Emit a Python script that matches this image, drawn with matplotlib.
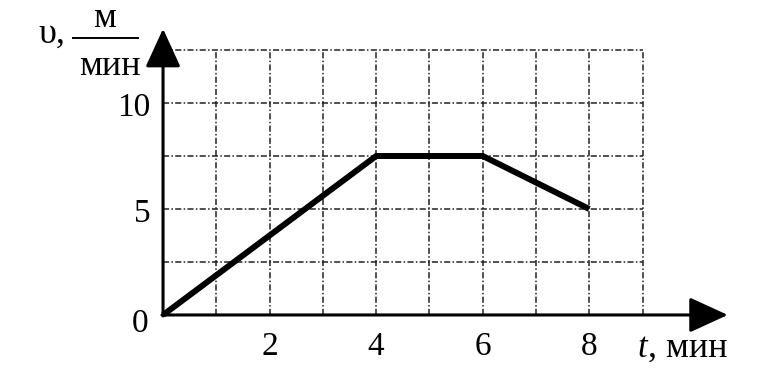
import matplotlib.pyplot as plt
import numpy as np

# data
t_points = [0, 4, 6, 8]
v_points = [0, 7.5, 7.5, 5]
x_ticks = [2, 4, 6, 8]
y_ticks = [5, 10]
grid_x = np.arange(1, 10)
grid_y = np.arange(2.5, 12.6, 2.5)

serif = {'family': 'Liberation Serif'}

fig = plt.figure(figsize=(7.8, 3.9), dpi=100)
ax = fig.add_axes([0, 0, 1, 1])
ax.set_xlim(-3.06, 11.58)
ax.set_ylim(-3.54, 14.86)
ax.axis('off')

# dashed grid
dash = (0, (4, 1.5, 1, 1.5))
ax.vlines(grid_x, 0, grid_y[-1], colors='#222222', linewidth=1.1, linestyles=[dash])
ax.hlines(grid_y, 0, grid_x[-1], colors='#222222', linewidth=1.1, linestyles=[dash])

# axes with arrows
arrow = dict(arrowstyle='-|>,head_length=1.2,head_width=0.55', mutation_scale=20,
             lw=2.2, color='black', shrinkA=0, shrinkB=0)
ax.annotate('', xy=(10.6, 0), xytext=(-0.02, 0), arrowprops=arrow)
ax.annotate('', xy=(0, 13.5), xytext=(0, -0.05), arrowprops=arrow)

# graph
ax.plot(t_points, v_points, color='black', linewidth=4.3, solid_capstyle='butt',
        solid_joinstyle='miter')

# tick labels
for x in x_ticks:
    ax.text(x, -1.89, str(x), ha='center', va='baseline', fontsize=24, **serif)
for y in y_ticks:
    ax.text(-0.24, y - 0.6, str(y), ha='right', va='baseline', fontsize=24, **serif)
ax.text(-0.43, -0.8, '0', ha='center', va='baseline', fontsize=24, **serif)

# axis labels
ax.text(8.9, -1.98, 't', ha='left', va='baseline', fontsize=25, style='italic', **serif)
ax.text(9.1, -1.98, ', мин', ha='left', va='baseline', fontsize=26, **serif)
ax.text(-2.08, 12.83, 'υ,', ha='center', va='baseline', fontsize=26, **serif)
ax.plot([-1.69, -0.47], [13.07, 13.07], color='black', linewidth=1.4)
ax.text(-1.10, 13.58, 'м', ha='center', va='baseline', fontsize=26, **serif)
ax.text(-0.99, 11.32, 'мин', ha='center', va='baseline', fontsize=26, **serif)

fig.savefig('out.png', dpi=100)
